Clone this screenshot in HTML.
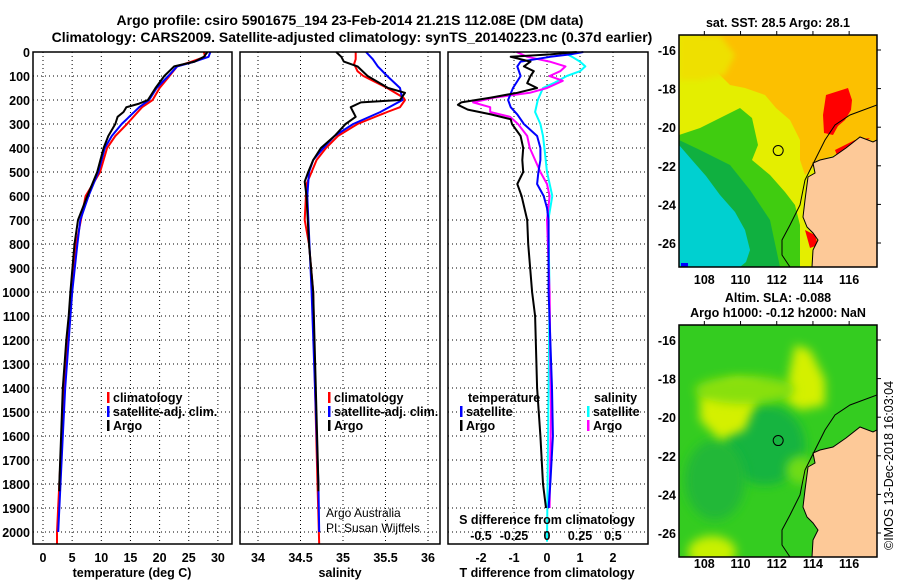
<!DOCTYPE html>
<html><head><meta charset="utf-8"><style>
html,body{margin:0;padding:0;background:#fff;width:900px;height:580px;overflow:hidden}
svg{display:block;font-family:"Liberation Sans",sans-serif}
.b{font-weight:bold;font-size:14px}
.t{font-weight:bold;font-size:12.5px}
</style></head><body>
<svg id="c" width="900" height="580" viewBox="0 0 900 580">
<text x="350" y="25" text-anchor="middle" class="b">Argo profile: csiro 5901675_194 23-Feb-2014 21.21S 112.08E (DM data)</text>
<text x="352" y="42" text-anchor="middle" class="b">Climatology: CARS2009. Satellite-adjusted climatology: synTS_20140223.nc (0.37d earlier)</text>
<g id="grid"></g>
<g id="lines"></g>
<g id="frames"></g>
<g id="maps"></g>
<g id="labels"></g>
</svg>
<script>
// ---------- data ----------
const depthTicks=[0,100,200,300,400,500,600,700,800,900,1000,1100,1200,1300,1400,1500,1600,1700,1800,1900,2000];
const tempTicks=[0,5,10,15,20,25,30];
const salTicks=[34,34.5,35,35.5,36];
const tdiffTicks=[-2,-1,0,1,2];
const sdiffTicks=[-0.5,-0.25,0,0.25,0.5];
const sdiffLabels=["-0.5","-0.25","0","0.25","0.5"];

const tArgoDepth=[0,20,40,60,100,150,200,215,230,250,270,300,350,400,500,600,700,800,1000,1100,1200,1400,1600,1800,1830];
const tArgo=[28.2,27.6,26,22.5,20.8,19.3,18,16.5,14.3,13.8,12.8,12.4,11.2,10.4,9.3,7.6,6,5.4,4.7,4.4,4.0,3.4,3.1,2.8,2.8];
const tClimDepth=[0,20,40,60,100,150,200,230,300,350,400,500,600,700,800,1000,1200,1400,1600,1800,2000,2050];
const tClim=[27.6,27.8,25.5,23,21.7,20,18.8,17,14.4,12.4,11,9.8,7.3,6.5,5.7,4.9,4.3,3.6,3.2,2.8,2.4,2.4];
const tSatDepth=[0,20,40,60,100,150,200,230,300,350,400,500,600,700,800,1000,1200,1400,1600,1800,2000];
const tSat=[28.7,28.4,26,23,21.5,19.5,18.2,16.5,13.5,11.8,10.6,9.5,7.8,6.4,5.9,5.0,4.4,3.8,3.4,3.0,2.6];

const sArgoDepth=[0,20,40,60,100,150,170,200,210,230,250,270,300,350,400,450,500,540,600,800,1000,1400,1800,1830];
const sArgo=[34.92,34.98,35.01,35.17,35.29,35.53,35.73,35.67,35.21,35.09,35.12,35.15,35.03,34.9,34.74,34.65,34.59,34.55,34.57,34.6,34.65,34.68,34.71,34.71];
const sClimDepth=[0,30,50,80,100,150,190,200,230,250,300,350,400,450,500,550,700,800,1000,1400,1800,2050];
const sClim=[35.15,35.15,35.13,35.17,35.24,35.52,35.71,35.73,35.67,35.52,35.17,34.94,34.8,34.69,34.63,34.57,34.55,34.6,34.65,34.67,34.7,34.72];
const sSatDepth=[0,30,60,100,150,200,250,300,350,400,450,500,600,1000,1400,1800,2000];
const sSat=[35.27,35.35,35.41,35.52,35.67,35.7,35.44,35.12,34.9,34.77,34.65,34.6,34.58,34.63,34.67,34.71,34.72];

const dTArgoDepth=[0,10,20,40,60,80,100,130,150,170,190,210,220,240,260,280,300,350,400,450,500,550,600,700,800,1000,1100,1400,1600,1800,1900];
const dTArgo=[0.9,0.1,-1.1,-0.5,-0.7,-0.4,-0.5,-0.6,-0.3,-0.9,-1.7,-2.6,-2.7,-2.4,-1.7,-1.1,-1.06,-0.8,-0.72,-0.75,-0.72,-0.9,-0.77,-0.6,-0.57,-0.45,-0.36,-0.3,-0.2,-0.12,-0.03];
const dTSatDepth=[0,10,20,40,60,100,150,200,230,260,300,350,400,450,500,550,600,650,700,1000,1400,1600,1800,1900];
const dTSat=[1.1,0.7,0.1,-0.8,-0.9,-0.8,-1.03,-1.18,-1.1,-0.9,-0.7,-0.3,-0.2,-0.2,-0.26,-0.3,-0.1,0,0.05,0.05,0.15,0.18,0.1,0.05];
const dSArgoDepth=[0,20,40,60,80,100,120,150,170,190,210,230,250,270,300,350,400,450,500,550,600,700,1000,1500,1900];
const dSArgo=[-0.23,-0.15,0.02,0.14,0.1,0.02,0.12,0,-0.13,-0.4,-0.56,-0.43,-0.43,-0.28,-0.22,-0.15,-0.13,-0.09,-0.05,0,0.02,0,0.02,0.03,0.02];
const dSSatDepth=[0,20,40,60,80,100,130,150,200,250,300,350,400,500,600,700,1000,1500,2040];
const dSSat=[0.12,0.19,0.25,0.29,0.25,0.15,0.05,-0.03,-0.07,-0.09,-0.05,-0.03,-0.02,0,0.04,0.01,0.02,0.01,0.0];

// ---------- axes ----------
const Y0=52, Y1=544;
const yD=d=>Y0+d*0.24;
const xT=v=>43+v*5.83;
const xS=v=>258+(v-34)*85;
const xDT=v=>547+v*33;
const xDS=v=>547+v*132;
const NS='http://www.w3.org/2000/svg';
function mk(tag,attrs,parent){const e=document.createElementNS(NS,tag);for(const k in attrs)e.setAttribute(k,attrs[k]);parent.appendChild(e);return e;}
const G=document.getElementById('grid'),L=document.getElementById('lines'),F=document.getElementById('frames'),LB=document.getElementById('labels');
const panels=[[33,232,tempTicks,xT],[240,440,salTicks,xS],[448,648,tdiffTicks,xDT]];
panels.forEach(([a,b,ticks,fx],i)=>{
  ticks.forEach(v=>{const x=fx(v);const l=mk('line',{x1:x,x2:x,y1:Y0,y2:Y1,stroke:'#000','stroke-width':1,'stroke-dasharray':'1,3'},G);
    
    });
  depthTicks.forEach(d=>{const y=yD(d);const l=mk('line',{x1:a,x2:b,y1:y,y2:y,stroke:'#000','stroke-width':1,'stroke-dasharray':'1,3'},G);
    
    });
  const r=mk('rect',{x:a,y:Y0,width:b-a,height:Y1-Y0,fill:'none',stroke:'#000','stroke-width':1.5},F);
  
  
});
function series(dep,val,fx,col,name,w){
  const pts=dep.map((d,i)=>fx(val[i]).toFixed(1)+','+yD(d).toFixed(1)).join(' ');
  const p=mk('polyline',{points:pts,fill:'none',stroke:col,'stroke-width':w||2,'stroke-linejoin':'round'},L);
  
  
}
series(tClimDepth,tClim,xT,'#f00','temp-climatology-line');
series(tSatDepth,tSat,xT,'#00f','temp-satellite-line');
series(tArgoDepth,tArgo,xT,'#000','temp-argo-line');
series(sClimDepth,sClim,xS,'#f00','sal-climatology-line');
series(sSatDepth,sSat,xS,'#00f','sal-satellite-line');
series(sArgoDepth,sArgo,xS,'#000','sal-argo-line');
series(dSSatDepth,dSSat,xDS,'#0ff','sdiff-satellite-line');
series(dSArgoDepth,dSArgo,xDS,'#f0f','sdiff-argo-line');
series(dTSatDepth,dTSat,xDT,'#00f','tdiff-satellite-line');
series(dTArgoDepth,dTArgo,xDT,'#000','tdiff-argo-line');

function txt(x,y,s,cls,anchor,name,extra){const t=mk('text',Object.assign({x:x,y:y,'text-anchor':anchor||'start'},extra||{}),LB);if(cls)t.setAttribute('class',cls);t.textContent=s;
  
  return t;}
depthTicks.forEach(d=>txt(30,yD(d)+5,String(d),'t','end','depth-tick-label'));
tempTicks.forEach(v=>txt(xT(v),562,String(v),'t','middle','temp-tick-label'));
salTicks.forEach(v=>txt(xS(v),562,String(v),'t','middle','sal-tick-label'));
tdiffTicks.forEach(v=>txt(xDT(v),562,String(v),'t','middle','tdiff-tick-label'));
sdiffTicks.forEach((v,i)=>txt(xDS(v),540,sdiffLabels[i],'t','middle','sdiff-tick-label'));
txt(132,577,'temperature (deg C)','t','middle','x-axis-title-temperature');
txt(340,577,'salinity','t','middle','x-axis-title-salinity');
txt(547,577,'T difference from climatology','t','middle','x-axis-title-tdiff');
txt(547,524,'S difference from climatology','t','middle','x-axis-title-sdiff');
function leg(x,y,col,s,name){const r=mk('rect',{x:x,y:y-10,width:2.5,height:11,fill:col},LB);
  
  
  txt(x+6,y,s,'t','start',name);}
leg(107,402,'#f00','climatology','legend-temp-climatology');
leg(107,416,'#00f','satellite-adj. clim.','legend-temp-satellite');
leg(107,430,'#000','Argo','legend-temp-argo');
leg(328,402,'#f00','climatology','legend-sal-climatology');
leg(328,416,'#00f','satellite-adj. clim.','legend-sal-satellite');
leg(328,430,'#000','Argo','legend-sal-argo');
txt(468,402,'temperature','t','start','legend-tdiff-title');
leg(460,416,'#00f','satellite','legend-tdiff-satellite');
leg(460,430,'#000','Argo','legend-tdiff-argo');
txt(594,402,'salinity','t','start','legend-sdiff-title');
leg(587,416,'#0ff','satellite','legend-sdiff-satellite');
leg(587,430,'#f0f','Argo','legend-sdiff-argo');
txt(326,517,'Argo Australia',null,'start','credit-argo-australia',{'font-size':'12'});
txt(326,532,'PI: Susan Wijffels',null,'start','credit-pi',{'font-size':'12'});
</script>
<svg width="0" height="0" style="position:absolute"><defs>
<filter id="bl" x="-50%" y="-50%" width="200%" height="200%"><feGaussianBlur stdDeviation="5"/></filter>
<filter id="bl2" x="-50%" y="-50%" width="200%" height="200%"><feGaussianBlur stdDeviation="3"/></filter>
<clipPath id="mclip"><rect x="679" y="35" width="198" height="232"/></clipPath>
<clipPath id="mclip2"><rect x="679" y="325" width="198" height="232"/></clipPath>
</defs></svg>
<script>
const M=document.getElementById('maps');
const land="877,140 873,142 860,137 846,148 833,157 820,160 813,163 815,173 808,177 805,200 803,217 807,227 813,233 818,240 813,250 812,267 877,267";
const lonTicks=[108,110,112,114,116];
const latTicks=[-16,-18,-20,-22,-24,-26];
const argoLon=112.08, argoLat=-21.21;
const mx=lon=>679+(lon-106.6)*18.1;
const myTop=lat=>50+(-16-lat)*19.3;
function m(tag,a,p){const e=document.createElementNS('http://www.w3.org/2000/svg',tag);for(const k in a)e.setAttribute(k,a[k]);p.appendChild(e);return e;}
// top map
const g1=m('g',{'clip-path':'url(#mclip)'},M);


m('rect',{x:679,y:35,width:198,height:232,fill:'#e4ee00'},g1);
m('polygon',{points:"700,35 877,35 877,140 820,160 812,168 805,175 800,160 800,140 790,120 776,108 765,95 745,88 730,85 715,70 700,60",fill:'#fcc000'},g1);
m('polygon',{points:"679,35 720,35 735,55 725,75 700,80 679,80",fill:'#eee000',filter:'url(#bl2)'},g1);
m('polygon',{points:"679,135 700,128 720,118 740,108 752,118 758,145 752,160 770,175 785,192 795,205 800,225 800,267 679,267",fill:'#40cc10'},g1);
m('polygon',{points:"679,140 700,150 730,165 750,190 770,220 780,267 679,267",fill:'#10b040'},g1);
m('polygon',{points:"679,145 692,160 706,176 720,195 735,212 745,230 750,250 746,262 740,267 679,267",fill:'#00d0d0'},g1);
m('rect',{x:681,y:263,width:7,height:4,fill:'#0000ff'},g1);
m('polygon',{points:"826,95 848,88 852,100 851,110 845,120 838,126 833,135 824,133 823,115",fill:'#f00'},g1);
m('polygon',{points:"835,150 855,140 870,138 850,152 838,158",fill:'#f00'},g1);
m('polygon',{points:"805,230 815,235 818,245 810,248",fill:'#f00'},g1);
const l1=m('polygon',{points:land,fill:'#fdc998',stroke:'#000','stroke-width':1},g1);


m('polyline',{points:"877,105 850,115 835,125 825,140 815,160 805,180 800,205 790,225 782,240 782,255 790,267",fill:'none',stroke:'#000','stroke-width':1},g1);
const c1=m('circle',{cx:mx(argoLon),cy:myTop(argoLat),r:5,fill:'none',stroke:'#000','stroke-width':1},M);


m('rect',{x:679,y:35,width:198,height:232,fill:'none',stroke:'#000','stroke-width':1.5},M);
// bottom map
const g2=m('g',{'clip-path':'url(#mclip2)'},M);


m('rect',{x:679,y:325,width:198,height:232,fill:'#34cc20'},g2);
m('ellipse',{cx:765,cy:445,rx:40,ry:40,fill:'#18b440',filter:'url(#bl)'},g2);
m('ellipse',{cx:715,cy:480,rx:30,ry:40,fill:'#22b838',filter:'url(#bl)'},g2);
m('polygon',{points:"700,395 735,380 760,385 755,405 745,430 720,440 700,420",fill:'#d4f000',filter:'url(#bl)'},g2);
m('polygon',{points:"795,345 810,350 825,380 825,405 800,410 785,400 790,370",fill:'#d4f000',filter:'url(#bl)'},g2);
m('ellipse',{cx:712,cy:552,rx:24,ry:16,fill:'#c8f000',filter:'url(#bl)'},g2);
m('ellipse',{cx:745,cy:390,rx:50,ry:14,fill:'#88e010',filter:'url(#bl)'},g2);
m('ellipse',{cx:800,cy:470,rx:14,ry:14,fill:'#70dc18',filter:'url(#bl)'},g2);
m('polygon',{points:land.split(' ').map(p=>{const [a,b]=p.split(',');return a+','+(+b+290);}).join(' '),fill:'#fdc998',stroke:'#000','stroke-width':1},g2);
m('polyline',{points:"877,395 850,405 835,415 825,430 815,450 805,470 800,495 790,515 782,530 782,545 790,557",fill:'none',stroke:'#000','stroke-width':1},g2);
m('circle',{cx:mx(argoLon),cy:myTop(argoLat)+290,r:5,fill:'none',stroke:'#000','stroke-width':1},M);
m('rect',{x:679,y:325,width:198,height:232,fill:'none',stroke:'#000','stroke-width':1.5},M);
function t2(x,y,s,anchor,name,extra){const t=m('text',Object.assign({x:x,y:y,'text-anchor':anchor,'font-weight':'bold','font-size':'12.5'},extra||{}),M);t.textContent=s;
  
  }
[0,290].forEach(off=>{
  lonTicks.forEach(v=>{t2(mx(v),(off?568:284),String(v),'middle','map-lon-label');m('line',{x1:mx(v),x2:mx(v),y1:31+off,y2:35+off,stroke:'#000'},M);});
  latTicks.forEach(v=>{t2(676,myTop(v)+off+5,String(v),'end','map-lat-label');m('line',{x1:877,x2:881,y1:myTop(v)+off,y2:myTop(v)+off,stroke:'#000'},M);});
});
t2(778,27,'sat. SST: 28.5 Argo: 28.1','middle','sst-map-title');
t2(778,302,'Altim. SLA: -0.088','middle','sla-map-title-1');
t2(778,317,'Argo h1000: -0.12 h2000: NaN','middle','sla-map-title-2');
const v=m('text',{x:0,y:0,transform:'translate(893,550) rotate(-90)','font-size':'12.5'},M);v.textContent='\u00a9IMOS 13-Dec-2018 16:03:04';


</script>
</body></html>
